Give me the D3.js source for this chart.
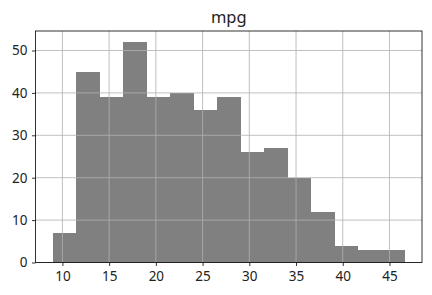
<!DOCTYPE html>
<html>
<head>
<meta charset="utf-8">
<script src="https://cdn.jsdelivr.net/npm/d3@7"></script>
<style>
  body { margin: 0; background: #fff; }
  text { font-family: "Noto Sans", "Open Sans", sans-serif; fill: #222; }
</style>
</head>
<body>
<svg id="chart" width="432" height="295"></svg>
<script>
'use strict';

// histogram of mpg, 15 bins between 9 and 46.6
const binStart = 9;
const binEnd = 46.6;
const counts = [7, 45, 39, 52, 39, 40, 36, 39, 26, 27, 20, 12, 4, 3, 3];
const xTicks = [10, 15, 20, 25, 30, 35, 40, 45];
const yTicks = [0, 10, 20, 30, 40, 50];
const title = 'mpg';

function drawChart() {
    const svg = d3.select('#chart');
    const left = 35.5, right = 422, top = 31, bottom = 262.5;

    const binW = (binEnd - binStart) / counts.length;
    const bins = counts.map(function(c, i) {
        return {x0: binStart + i * binW, x1: binStart + (i + 1) * binW, n: c};
    });

    const pad = (binEnd - binStart) * 0.05;
    const x = d3.scaleLinear()
        .domain([binStart - pad, binEnd + pad])
        .range([left, right]);
    const y = d3.scaleLinear()
        .domain([0, d3.max(counts) * 1.05])
        .range([bottom, top]);

    // bars
    svg.append('g')
        .attr('shape-rendering', 'crispEdges')
        .selectAll('rect')
        .data(bins)
        .enter()
        .append('rect')
        .attr('x', function(d) {return x(d.x0);})
        .attr('width', function(d) {return x(d.x1) - x(d.x0) + 0.5;})
        .attr('y', function(d) {return y(d.n);})
        .attr('height', function(d) {return y(0) - y(d.n);})
        .style('fill', '#808080');

    // grid on top of bars
    const grid = svg.append('g')
        .style('stroke', '#b0b0b0')
        .style('stroke-width', 0.8);
    grid.selectAll('line.gx')
        .data(xTicks)
        .enter()
        .append('line')
        .attr('x1', function(d) {return x(d);})
        .attr('x2', function(d) {return x(d);})
        .attr('y1', top)
        .attr('y2', bottom);
    grid.selectAll('line.gy')
        .data(yTicks)
        .enter()
        .append('line')
        .attr('x1', left)
        .attr('x2', right)
        .attr('y1', function(d) {return y(d);})
        .attr('y2', function(d) {return y(d);});

    // axes
    const xAxis = svg.append('g')
        .attr('transform', 'translate(0,' + bottom + ')')
        .call(d3.axisBottom(x).tickValues(xTicks).tickSize(3.5).tickPadding(5.5));
    const yAxis = svg.append('g')
        .attr('transform', 'translate(' + left + ',0)')
        .call(d3.axisLeft(y).tickValues(yTicks).tickSize(3.5).tickPadding(4.5));
    [xAxis, yAxis].forEach(function(a) {
        a.select('.domain').remove();
        a.selectAll('line').style('stroke', '#000').style('stroke-width', 0.8);
        a.selectAll('text')
            .style('font-family', '"Noto Sans", "Open Sans", sans-serif')
            .style('font-size', '13.5px')
            .style('fill', '#222');
    });

    // frame
    svg.append('rect')
        .attr('x', left)
        .attr('y', top)
        .attr('width', right - left)
        .attr('height', bottom - top)
        .style('fill', 'none')
        .style('stroke', '#000')
        .style('stroke-width', 0.8);

    svg.append('text')
        .attr('x', (left + right) / 2)
        .attr('y', 22.5)
        .attr('text-anchor', 'middle')
        .style('font-size', '16.5px')
        .text(title);
}

drawChart();
</script>
</body>
</html>
